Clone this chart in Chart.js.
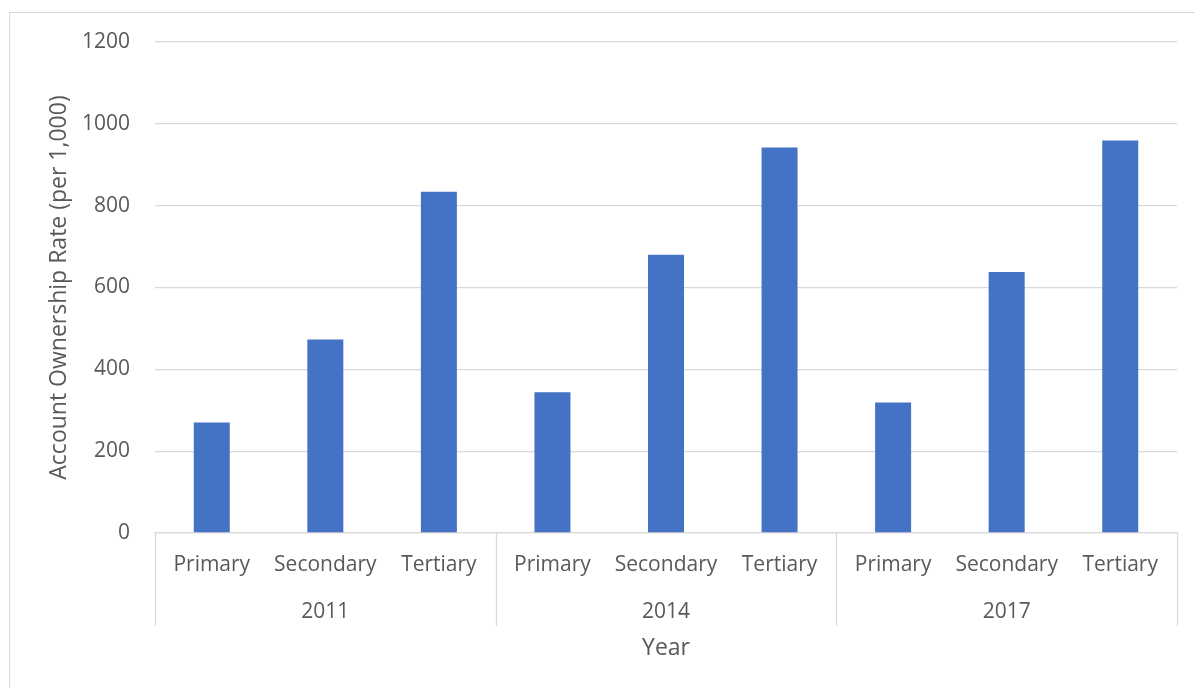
<!DOCTYPE html>
<html lang="en">
<head>
<meta charset="UTF-8">
<title>Account Ownership by Education</title>
<script src="https://cdn.jsdelivr.net/npm/chart.js"></script>
<style>
    html, body {
        margin: 0;
        padding: 0;
        background: #fff;
        overflow: hidden;
    }
    .frame {
        position: absolute;
        left: 9px;
        top: 12px;
        width: 1300px;
        height: 800px;
        border: 1px solid #d9d9d9;
        box-sizing: border-box;
    }
    .chart-box {
        position: absolute;
        left: 0;
        top: 0;
        width: 1195px;
        height: 688px;
    }
</style>
</head>
<body>
<div class="frame"></div>
<div class="chart-box">
    <canvas id="accountChart"></canvas>
</div>

<script>
    const years = ['2011', '2014', '2017'];
    const levels = ['Primary', 'Secondary', 'Tertiary'];
    // account ownership per 1,000, three education levels per year
    const rates2011 = [270, 473, 834];
    const rates2014 = [344, 680, 942];
    const rates2017 = [319, 638, 959];
    const yTicks = [0, 200, 400, 600, 800, 1000, 1200];

    const labels = [];
    years.forEach(() => levels.forEach(l => labels.push(l)));
    const values = [...rates2011, ...rates2014, ...rates2017];

    const textColor = '#595959';
    const lineColor = '#d9d9d9';
    const fontFamily = '"Open Sans", "Noto Sans", sans-serif';
    const tickFont = { family: fontFamily, size: 21 };
    const titleFont = { family: fontFamily, size: 23 };

    // vertical dividers between the year groups under the axis
    const groupDividers = {
        id: 'groupDividers',
        afterDraw(chart) {
            const x = chart.scales.x;
            const x2 = chart.scales.x2;
            const ctx = chart.ctx;
            const per = levels.length;
            const edges = [x.left];
            for (let g = 1; g < years.length; g++) {
                edges.push((x.getPixelForValue(g * per - 1) + x.getPixelForValue(g * per)) / 2);
            }
            edges.push(x.right);
            const top = chart.chartArea.bottom;
            const bottom = x2.top + 39;
            ctx.save();
            ctx.strokeStyle = lineColor;
            ctx.lineWidth = 1.3;
            edges.forEach(px => {
                const p = Math.round(px) + 0.5;
                ctx.beginPath();
                ctx.moveTo(p, top);
                ctx.lineTo(p, bottom);
                ctx.stroke();
            });
            ctx.restore();
        }
    };

    new Chart(document.getElementById('accountChart'), {
        type: 'bar',
        data: {
            labels: labels,
            datasets: [{
                data: values,
                backgroundColor: '#4472c4',
                borderWidth: 0,
                categoryPercentage: 1,
                barPercentage: 0.317
            }]
        },
        options: {
            responsive: true,
            maintainAspectRatio: false,
            animation: false,
            layout: {
                padding: { left: 0, right: 18, top: 42, bottom: 0 }
            },
            plugins: {
                legend: { display: false },
                tooltip: { enabled: false }
            },
            scales: {
                x: {
                    position: 'bottom',
                    grid: { display: false, drawTicks: false },
                    border: { display: true, color: lineColor, width: 1.3 },
                    ticks: {
                        color: textColor,
                        font: tickFont,
                        padding: 19,
                        maxRotation: 0,
                        autoSkip: false
                    },
                    afterFit(scale) { scale.height = 54; }
                },
                x2: {
                    type: 'category',
                    labels: years,
                    position: 'bottom',
                    offset: true,
                    grid: { display: false, drawTicks: false },
                    border: { display: false },
                    ticks: {
                        color: textColor,
                        font: tickFont,
                        padding: 12,
                        maxRotation: 0
                    },
                    title: {
                        display: true,
                        text: 'Year',
                        color: textColor,
                        font: titleFont,
                        padding: { top: 0, bottom: 26 }
                    },
                    afterFit(scale) { scale.height = 101; }
                },
                y: {
                    min: 0,
                    max: 1200,
                    afterBuildTicks(scale) {
                        scale.ticks = yTicks.map(v => ({ value: v }));
                    },
                    grid: { color: lineColor, lineWidth: 1.3, drawTicks: false },
                    border: { display: false },
                    ticks: {
                        color: textColor,
                        font: tickFont,
                        padding: 25,
                        callback: v => String(v)
                    },
                    title: {
                        display: true,
                        text: 'Account Ownership Rate (per 1,000)',
                        color: textColor,
                        font: titleFont,
                        padding: { top: 46, bottom: 0 }
                    },
                    afterFit(scale) { scale.width = 155; }
                }
            }
        },
        plugins: [groupDividers]
    });
</script>
</body>
</html>
